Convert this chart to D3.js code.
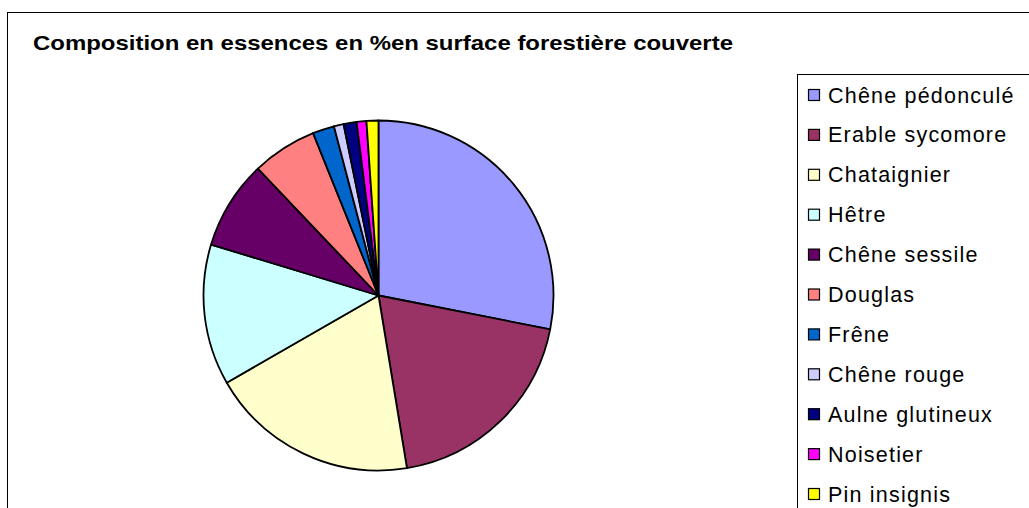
<!DOCTYPE html>
<html>
<head>
<meta charset="utf-8">
<script src="https://cdn.jsdelivr.net/npm/d3@7"></script>
<style>
  body { margin: 0; background: #fff; }
  svg { display: block; }
  text { font-family: "Liberation Sans", Arial, sans-serif; }
</style>
</head>
<body>
<svg id="chart" width="1029" height="508"></svg>
<script>
// species and their share (%) of covered forest area
const species = ["Chêne pédonculé", "Erable sycomore", "Chataignier", "Hêtre",
  "Chêne sessile", "Douglas", "Frêne", "Chêne rouge", "Aulne glutineux",
  "Noisetier", "Pin insignis"]
const shares = [28.1, 19.3, 19.3, 13.0, 8.2, 6.0, 2.0, 0.9, 1.2, 0.9, 1.1]
const colours = ["#9999FF", "#993366", "#FFFFCC", "#CCFFFF", "#660066", "#FF8080",
  "#0066CC", "#CCCCFF", "#000080", "#FF00FF", "#FFFF00"]

const title = "Composition en essences en %en surface forestière couverte"

var svg = d3.select("#chart")

// chart area border (runs off the right and bottom edges)
svg.append("rect")
  .attr("x", 7.5).attr("y", 12.5)
  .attr("width", 1100).attr("height", 600)
  .attr("fill", "#fff").attr("stroke", "#000").attr("stroke-width", 1)

svg.append("text")
  .attr("x", 33).attr("y", 50)
  .attr("font-size", 21).attr("font-weight", "bold")
  .attr("textLength", 700).attr("lengthAdjust", "spacingAndGlyphs")
  .text(title)

var data = species.map(function(s, i) { return {name: s, value: shares[i]} })
var color = d3.scaleOrdinal().domain(species).range(colours)

var pie = d3.pie().sort(null).value(function(d) { return d.value })
var arc = d3.arc().innerRadius(0).outerRadius(175)

var g = svg.append("g").attr("transform", "translate(378.5,295.5)")

g.selectAll("path")
  .data(pie(data))
  .enter().append("path")
  .attr("d", arc)
  .attr("fill", function(d) { return color(d.data.name) })
  .attr("stroke", "#000")
  .attr("stroke-width", 1.8)
  .attr("stroke-linejoin", "round")

// legend box
svg.append("rect")
  .attr("x", 797.5).attr("y", 74.5)
  .attr("width", 300).attr("height", 500)
  .attr("fill", "#fff").attr("stroke", "#000").attr("stroke-width", 1)

var y = d3.scalePoint().domain(species).range([95, 494])

var item = svg.selectAll(".legend-item")
  .data(species)
  .enter().append("g")
  .attr("class", "legend-item")
  .attr("transform", function(d) { return "translate(0," + y(d) + ")" })

item.append("rect")
  .attr("x", 808.5).attr("y", -5.5)
  .attr("width", 11).attr("height", 11)
  .attr("fill", function(d) { return color(d) })
  .attr("stroke", "#000").attr("stroke-width", 1.2)

item.append("text")
  .attr("x", 828).attr("y", 7.5)
  .attr("font-size", 21.5)
  .attr("letter-spacing", 1.2)
  .attr("fill", "#000")
  .text(function(d) { return d })
</script>
</body>
</html>
